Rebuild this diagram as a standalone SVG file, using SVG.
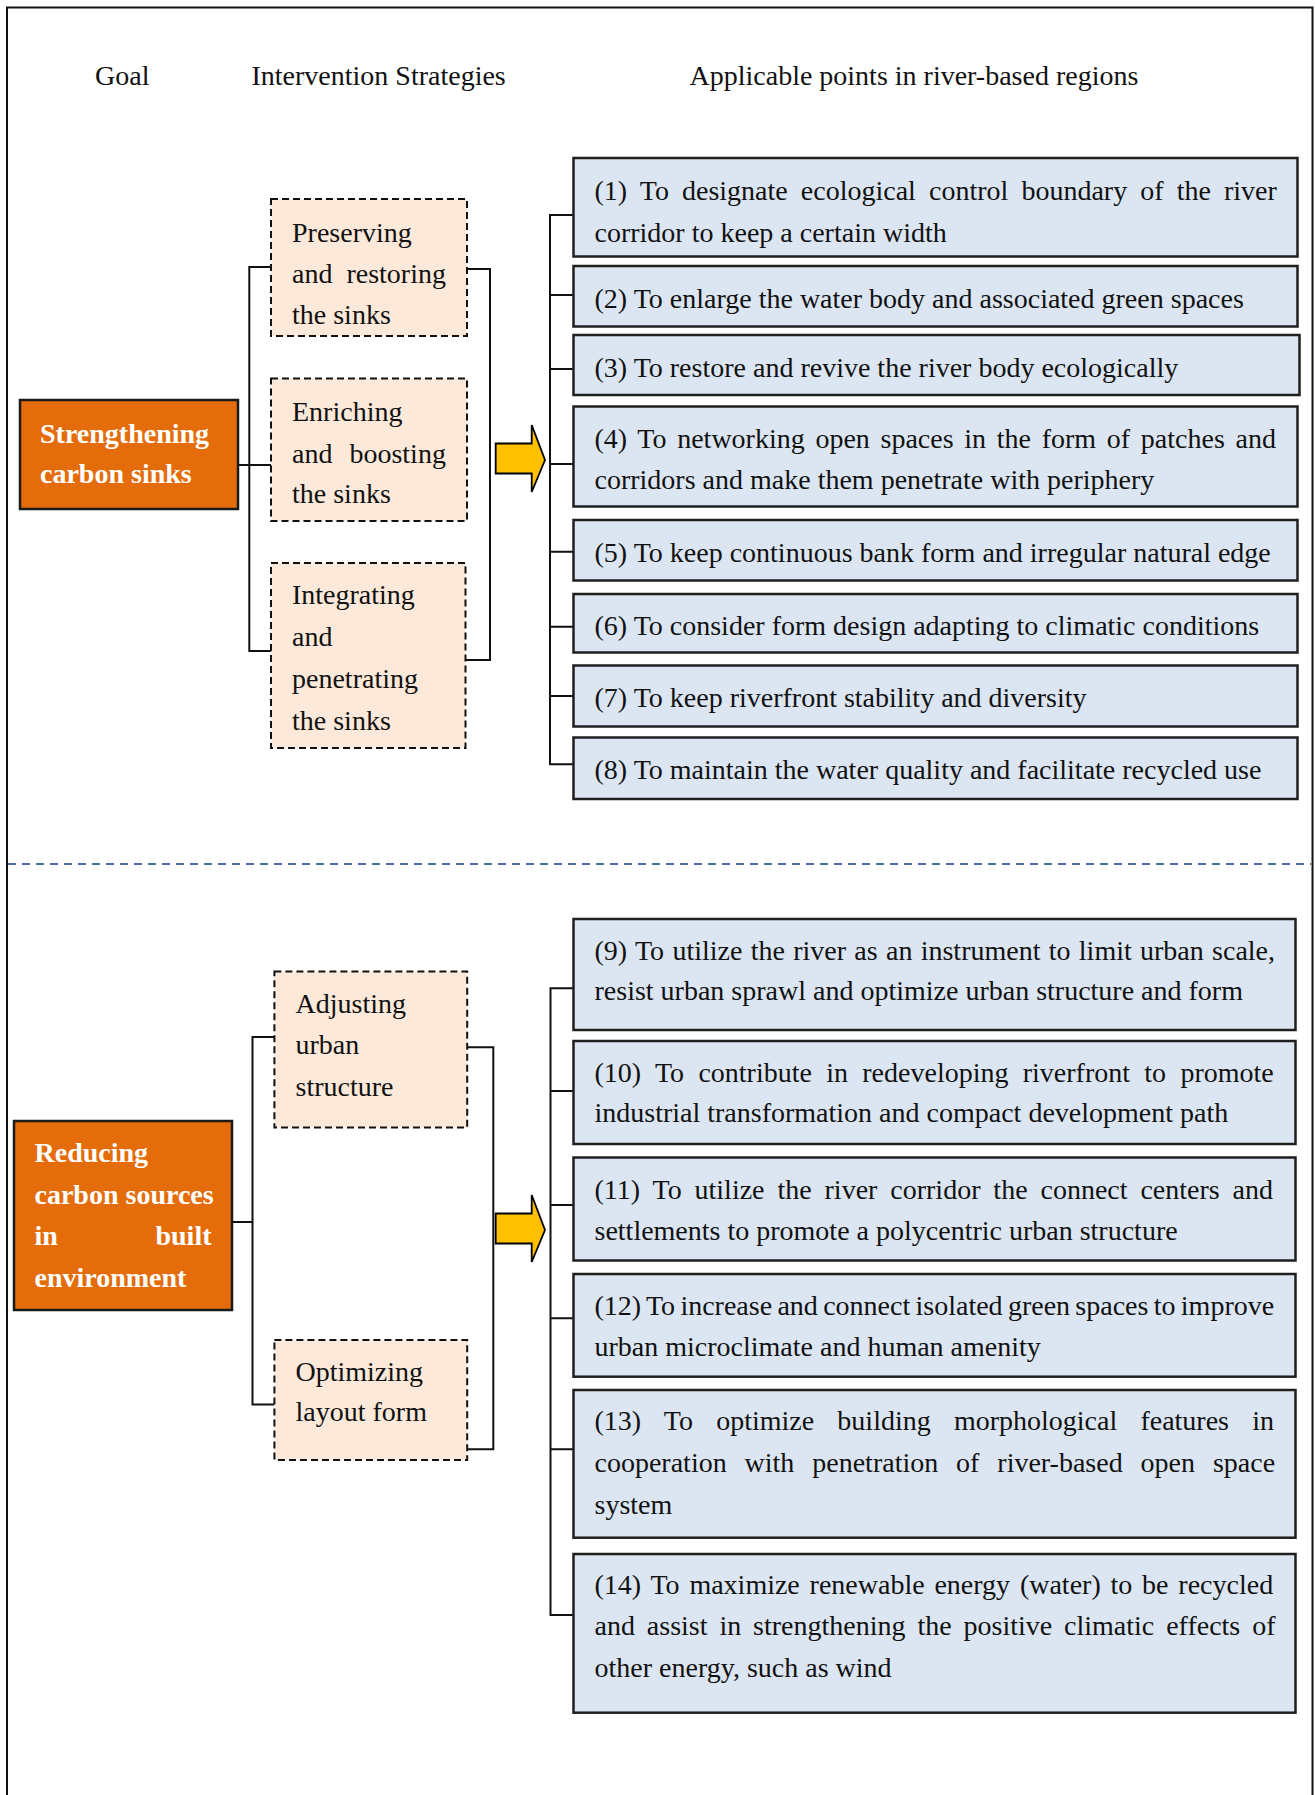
<svg xmlns="http://www.w3.org/2000/svg" xmlns:xlink="http://www.w3.org/1999/xlink" width="1315" height="1795" viewBox="0 0 1315 1795">
  <style>
    text { font-family: "Liberation Serif", "Times New Roman", serif; font-size: 28px; fill: #111; }
    .goal rect { fill: #E46C0A; stroke: #1a1a1a; stroke-width: 2.5; }
    .goal text { fill: #ffffff; font-weight: bold; }
    .strategy rect { fill: #FDE9D9; stroke: #111; stroke-width: 2; stroke-dasharray: 7 4; }
    .point rect { fill: #DCE6F2; stroke: #1f1f1f; stroke-width: 2.5; }
    .wire { fill: none; stroke: #111; stroke-width: 2; }
    .flow { fill: #FFC000; stroke: #000; stroke-width: 1.8; stroke-linejoin: miter; }
  </style>
  <defs>
    <!-- block arrow, tip at (0,0) -->
    <path id="blockArrow" d="M-49.3,-16.5 H-13.3 V-35 L0,0 L-13.3,32 V13.5 H-49.3 Z"/>
  </defs>

  <rect width="1315" height="1795" fill="#ffffff"/>

  <!-- outer frame -->
  <rect x="7" y="7.5" width="1305.5" height="1800" fill="none" stroke="#111" stroke-width="2"/>

  <!-- column headings -->
  <g id="headings">
    <text x="95" y="85">Goal</text>
    <text x="251.5" y="85">Intervention Strategies</text>
    <text x="689.5" y="85">Applicable points in river-based regions</text>
  </g>

  <!-- section divider -->
  <line x1="8" y1="864" x2="1311" y2="864" stroke="#4A6FA5" stroke-width="2" stroke-dasharray="8 6"/>

  <!-- connectors -->
  <g id="connectors">
    <g class="wire-set">
      <path class="wire" d="M238 465 H271"/>
      <path class="wire" d="M271 267 H249.3 V651 H271"/>
      <path class="wire" d="M467 269 H490 V660 H465.5"/>
      <path class="wire" d="M573 215 H550 V764.3 H573 M550 295 H573 M550 369 H573 M550 464 H573 M550 551.7 H573 M550 626.7 H573 M550 696 H573"/>
      <path class="wire" d="M232 1222 H252.5"/>
      <path class="wire" d="M274.4 1037 H252.5 V1404.4 H274.4"/>
      <path class="wire" d="M467 1047.3 H493.3 V1449.2 H467"/>
      <path class="wire" d="M573 988.3 H550.5 V1615 H573 M550.5 1091 H573 M550.5 1205 H573 M550.5 1318.3 H573 M550.5 1449.3 H573"/>
    </g>
    <use xlink:href="#blockArrow" class="flow" transform="translate(545,460)"/>
    <use xlink:href="#blockArrow" class="flow" transform="translate(545,1230)"/>
  </g>

  <!-- goals -->
  <g id="goal-sinks" class="goal">
    <rect x="20" y="400" width="218" height="109"/>
    <text x="40" y="442.5">Strengthening</text>
    <text x="40" y="483">carbon sinks</text>
  </g>
  <g id="goal-sources" class="goal">
    <rect x="14" y="1121" width="218" height="189"/>
    <text x="34.5" y="1162">Reducing</text>
    <text x="34.5" y="1204">carbon sources</text>
    <text x="34.5" y="1244.5">in</text>
    <text x="211.5" y="1244.5" text-anchor="end">built</text>
    <text x="34.5" y="1286.5">environment</text>
  </g>

  <!-- intervention strategies -->
  <g id="strategy-preserve" class="strategy">
    <rect x="271" y="199" width="196" height="137"/>
    <text x="292" y="241.5">Preserving</text>
    <text x="292" y="282.5" word-spacing="7">and restoring</text>
    <text x="292" y="324">the sinks</text>
  </g>
  <g id="strategy-enrich" class="strategy">
    <rect x="271" y="378.5" width="196" height="142.5"/>
    <text x="292" y="421">Enriching</text>
    <text x="292" y="462.5" word-spacing="10">and boosting</text>
    <text x="292" y="503">the sinks</text>
  </g>
  <g id="strategy-integrate" class="strategy">
    <rect x="271" y="563" width="194.5" height="185"/>
    <text x="292" y="603.5">Integrating</text>
    <text x="292" y="645.5">and</text>
    <text x="292" y="688">penetrating</text>
    <text x="292" y="729.5">the sinks</text>
  </g>
  <g id="strategy-structure" class="strategy">
    <rect x="274.4" y="971.6" width="192.8" height="156"/>
    <text x="295.5" y="1013">Adjusting</text>
    <text x="295.5" y="1054">urban</text>
    <text x="295.5" y="1096">structure</text>
  </g>
  <g id="strategy-layout" class="strategy">
    <rect x="274.4" y="1340" width="192.8" height="120"/>
    <text x="295.5" y="1381">Optimizing</text>
    <text x="295.5" y="1421">layout form</text>
  </g>

  <!-- applicable points -->
  <g id="point-1" class="point">
    <rect x="573.5" y="158" width="724" height="98.5"/>
    <text x="594.5" y="200" word-spacing="6.1">(1) To designate ecological control boundary of the river</text>
    <text x="594.5" y="242">corridor to keep a certain width</text>
  </g>
  <g id="point-2" class="point">
    <rect x="573.5" y="266" width="724" height="60.5"/>
    <text x="594.5" y="308">(2) To enlarge the water body and associated green spaces</text>
  </g>
  <g id="point-3" class="point">
    <rect x="573.5" y="335" width="726" height="60"/>
    <text x="594.5" y="377">(3) To restore and revive the river body ecologically</text>
  </g>
  <g id="point-4" class="point">
    <rect x="573.5" y="406.5" width="724" height="100"/>
    <text x="594.5" y="448" word-spacing="3.7">(4) To networking open spaces in the form of patches and</text>
    <text x="594.5" y="488.5">corridors and make them penetrate with periphery</text>
  </g>
  <g id="point-5" class="point">
    <rect x="573.5" y="520" width="724" height="60.5"/>
    <text x="594.5" y="562">(5) To keep continuous bank form and irregular natural edge</text>
  </g>
  <g id="point-6" class="point">
    <rect x="573.5" y="594" width="724" height="58.5"/>
    <text x="594.5" y="635">(6) To consider form design adapting to climatic conditions</text>
  </g>
  <g id="point-7" class="point">
    <rect x="573.5" y="665.5" width="724" height="61"/>
    <text x="594.5" y="707">(7) To keep riverfront stability and diversity</text>
  </g>
  <g id="point-8" class="point">
    <rect x="573.5" y="737.5" width="724" height="61.5"/>
    <text x="594.5" y="778.5">(8) To maintain the water quality and facilitate recycled use</text>
  </g>
  <g id="point-9" class="point">
    <rect x="573.5" y="919" width="722" height="111"/>
    <text x="594.5" y="960" word-spacing="1.3">(9) To utilize the river as an instrument to limit urban scale,</text>
    <text x="594.5" y="1000">resist urban sprawl and optimize urban structure and form</text>
  </g>
  <g id="point-10" class="point">
    <rect x="573.5" y="1041" width="722" height="103"/>
    <text x="594.5" y="1082" word-spacing="7.3">(10) To contribute in redeveloping riverfront to promote</text>
    <text x="594.5" y="1122">industrial transformation and compact development path</text>
  </g>
  <g id="point-11" class="point">
    <rect x="573.5" y="1157.5" width="722" height="103"/>
    <text x="594.5" y="1198.5" word-spacing="5.9">(11) To utilize the river corridor the connect centers and</text>
    <text x="594.5" y="1240">settlements to promote a polycentric urban structure</text>
  </g>
  <g id="point-12" class="point">
    <rect x="573.5" y="1274" width="722" height="102.7"/>
    <text x="594.5" y="1315" word-spacing="-1.7">(12) To increase and connect isolated green spaces to improve</text>
    <text x="594.5" y="1356">urban microclimate and human amenity</text>
  </g>
  <g id="point-13" class="point">
    <rect x="573.5" y="1390" width="722" height="147.7"/>
    <text x="594.5" y="1430" word-spacing="16.2">(13) To optimize building morphological features in</text>
    <text x="594.5" y="1471.5" word-spacing="10.9">cooperation with penetration of river-based open space</text>
    <text x="594.5" y="1513.5">system</text>
  </g>
  <g id="point-14" class="point">
    <rect x="573.5" y="1554" width="722" height="158.7"/>
    <text x="594.5" y="1593.5" word-spacing="2.8">(14) To maximize renewable energy (water) to be recycled</text>
    <text x="594.5" y="1635" word-spacing="4.9">and assist in strengthening the positive climatic effects of</text>
    <text x="594.5" y="1677">other energy, such as wind</text>
  </g>
</svg>
